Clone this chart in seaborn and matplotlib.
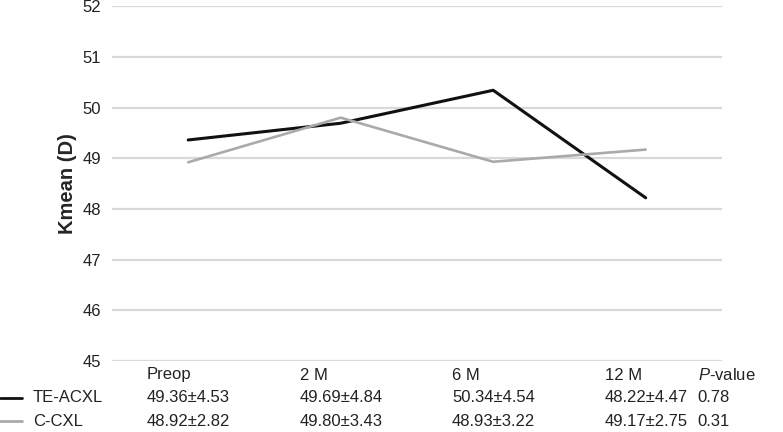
import pandas as pd
import matplotlib.pyplot as plt
import matplotlib.transforms as mtransforms
from matplotlib.lines import Line2D
import seaborn as sns

timepoints = ["Preop", "2 M", "6 M", "12 M"]
series_names = ["TE-ACXL", "C-CXL"]
te_acxl = [49.36, 49.69, 50.34, 48.22]
c_cxl = [48.92, 49.80, 48.93, 49.17]
te_acxl_txt = ["49.36±4.53", "49.69±4.84", "50.34±4.54", "48.22±4.47"]
c_cxl_txt = ["48.92±2.82", "49.80±3.43", "48.93±3.22", "49.17±2.75"]
p_values = ["0.78", "0.31"]
y_ticks = [45, 46, 47, 48, 49, 50, 51, 52]

colors = {"TE-ACXL": "#111111", "C-CXL": "#aaaaaa"}

df = pd.DataFrame({
    "pos": list(range(len(timepoints))) * 2,
    "Kmean": te_acxl + c_cxl,
    "group": ["TE-ACXL"] * 4 + ["C-CXL"] * 4,
})

sns.set_theme(style="white")
plt.rcParams["font.family"] = ["Liberation Sans", "DejaVu Sans"]
plt.rcParams["mathtext.fontset"] = "custom"
plt.rcParams["mathtext.it"] = "Liberation Sans:italic"
plt.rcParams["mathtext.rm"] = "Liberation Sans"

fig = plt.figure(figsize=(7.83, 4.32), dpi=100)
ax = fig.add_axes([0.143, 0.164, 0.779, 0.822])

ax.set_yticks(y_ticks)
ax.yaxis.grid(True, color="#d9d9d9", linewidth=1.6)
ax.set_axisbelow(True)

sns.lineplot(data=df, x="pos", y="Kmean", hue="group", hue_order=series_names,
             palette=colors, ax=ax, legend=False)
for line, lw in zip(ax.get_lines(), [2.2, 1.9]):
    line.set_linewidth(lw)

ax.set_xlim(-0.5, 3.5)
ax.set_ylim(45, 52)
ax.set_xticks([])
ax.set_xlabel("")
ax.set_ylabel("Kmean (D)", fontsize=14.5, fontweight="bold", labelpad=4)
ax.tick_params(axis="y", labelsize=12, length=0, pad=8, colors="#222222")
for s in ax.spines.values():
    s.set_visible(False)

# table under the plot
trans = mtransforms.blended_transform_factory(ax.transData, fig.transFigure)
row_y = [1 - 375 / 432, 1 - 398 / 432, 1 - 421 / 432]
off = 0.27
kw = dict(transform=trans, fontsize=12, va="center", ha="left", color="#222222")
for i, tp in enumerate(timepoints):
    ax.text(i - off, row_y[0], tp, **kw)
    ax.text(i - off, row_y[1], te_acxl_txt[i], **kw)
    ax.text(i - off, row_y[2], c_cxl_txt[i], **kw)
ax.text(3.34, row_y[0], "$\\it{P}$-value", **kw)
ax.text(3.34, row_y[1], p_values[0], **kw)
ax.text(3.34, row_y[2], p_values[1], **kw)

for name, yy in zip(series_names, row_y[1:]):
    fig.add_artist(Line2D([0.0, 0.028], [yy, yy], color=colors[name], linewidth=2,
                          transform=fig.transFigure))
    fig.text(0.042, yy, name, fontsize=12, va="center", ha="left", color="#222222")

fig.savefig("out.png", dpi=100)
